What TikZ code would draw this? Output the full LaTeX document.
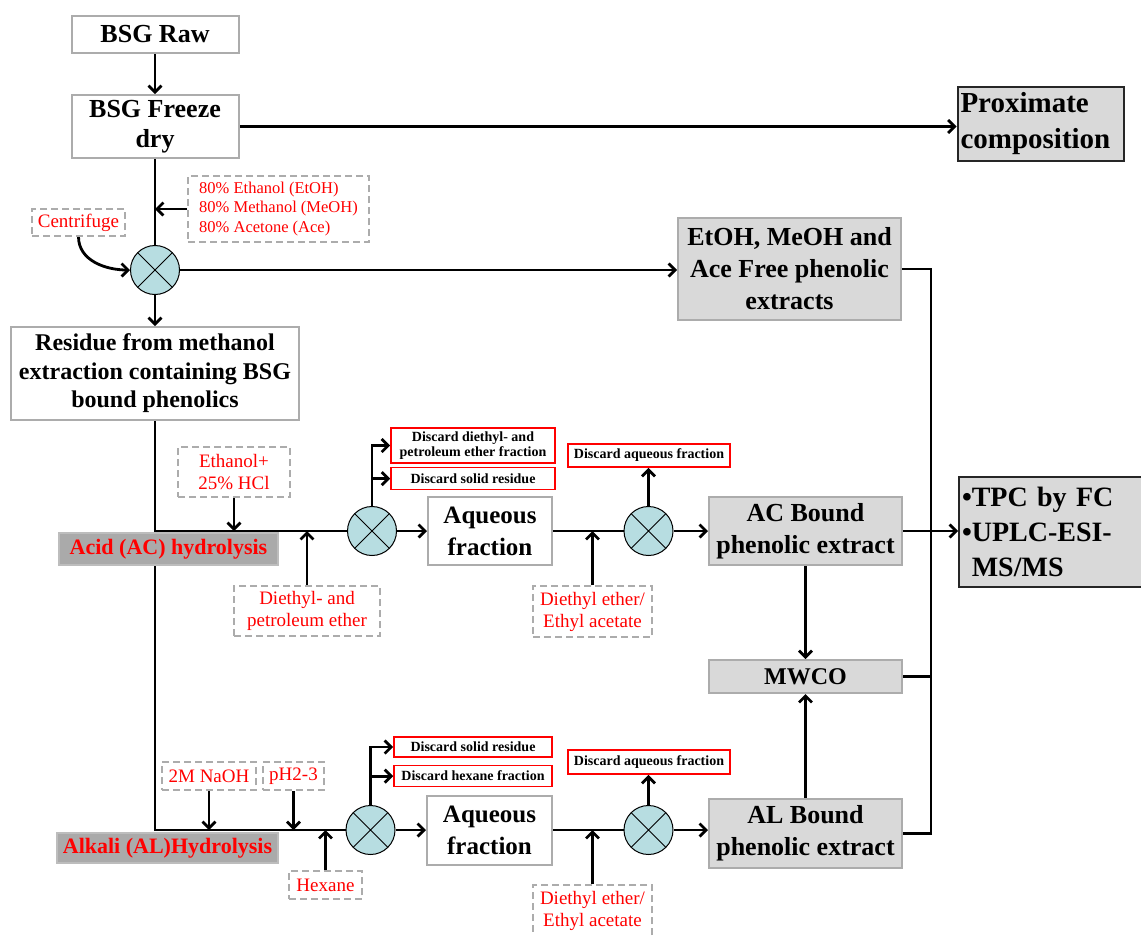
\documentclass[tikz,border=0pt]{standalone}
\usepackage{fontspec}
\setmainfont{Liberation Serif}
\usetikzlibrary{arrows.meta, positioning, calc, backgrounds}
\definecolor{boxgray}{RGB}{172,172,172}
\definecolor{fillgray}{RGB}{217,217,217}
\definecolor{hydrogray}{RGB}{170,170,170}
\definecolor{mixcyan}{RGB}{183,221,225}
\newcommand{\fsz}[2]{\fontsize{#1}{#2}\selectfont}
\tikzset{
    stage/.style = {draw=boxgray, fill=white, line width=2pt, align=center, inner sep=2pt, font=\bfseries\fsz{25}{32}},
    extract/.style = {stage, fill=fillgray},
    result/.style = {draw=black!85, fill=fillgray, line width=2pt, align=left, inner sep=3pt},
    reagent/.style = {draw=boxgray, fill=white, dash pattern=on 7pt off 4pt, line width=1.5pt, text=red, align=center, inner sep=2pt, font=\fsz{19}{22}},
    discard/.style = {draw=red, line width=1.6pt, fill=white, align=center, inner sep=1pt, font=\bfseries\fsz{14}{15}},
    hydro/.style = {draw=boxgray!80, fill=hydrogray, line width=1.5pt, text=red, inner sep=2pt, font=\bfseries\fsz{22}{24}},
    mixer/.style = {draw, circle, fill=mixcyan, line width=1pt, minimum size=49pt, inner sep=0pt,
        path picture={\draw[line width=1pt] (path picture bounding box.north west) -- (path picture bounding box.south east)
            (path picture bounding box.north east) -- (path picture bounding box.south west);}},
    flow/.style = {line width=2.8pt}
}

\begin{document}
\begin{tikzpicture}[x=1pt, y=-1pt, >={Straight Barb[length=6.5pt,width=13pt]}]
    \useasboundingbox (0,0) rectangle (1141,935);

    % Nodes
    \node [stage, minimum width=167pt, minimum height=37pt, font=\bfseries\fsz{26}{32}] (raw) at (155,34.5) {BSG Raw};
    \node [stage, below=40pt of raw, minimum width=167pt, minimum height=63pt, font=\bfseries\fsz{26}{30}] (freeze) {BSG Freeze\\dry};
    \node [result, text width=160pt, minimum height=74pt, font=\bfseries\fsz{29}{36}] (prox) at (1040.5,124) {Proximate\\composition};
    \node [reagent, align=left, minimum width=181pt, minimum height=66pt, font=\fsz{16.5}{19.5}] (solv) at (278.5,209) {80\% Ethanol (EtOH)\\80\% Methanol (MeOH)\\80\% Acetone (Ace)};
    \node [reagent, minimum width=93pt, minimum height=27pt] (centri) at (78.5,222.5) {Centrifuge};
    \node [mixer] (mix1) at (155,270) {};
    \node [extract, minimum width=223pt, minimum height=102pt, font=\bfseries\fsz{26}{32}] (etoh) at (789.5,269) {EtOH, MeOH and\\Ace Free phenolic\\extracts};
    \node [stage, minimum width=288pt, minimum height=93pt, font=\bfseries\fsz{24}{28.5}] (residue) at (155,373.5) {Residue from methanol\\extraction containing BSG\\bound phenolics};

    % acid branch
    \node [hydro, minimum width=219pt, minimum height=32pt] (acid) at (168.5,549) {Acid (AC) hydrolysis};
    \node [reagent, minimum width=112pt, minimum height=50pt] (hcl) at (234,472) {Ethanol+\\25\% HCl};
    \node [reagent, minimum width=146pt, minimum height=50pt] (dpe) at (307,611) {Diethyl- and\\petroleum ether};
    \node [mixer] (mix2) at (372,531) {};
    \node [discard, minimum width=164pt, minimum height=35pt] (disc1) at (473,445.5) {Discard diethyl- and\\petroleum ether fraction};
    \node [discard, below=3pt of disc1, minimum width=164pt, minimum height=22pt] (disc2) {Discard solid residue};
    \node [stage, minimum width=124pt, minimum height=68pt] (aq1) at (490,531) {Aqueous\\fraction};
    \node [reagent, minimum width=119pt, minimum height=51pt] (deea1) at (592.5,611.5) {Diethyl ether/\\Ethyl acetate};
    \node [mixer] (mix3) at (648.5,531) {};
    \node [discard, minimum width=162pt, minimum height=23pt] (disc3) at (649,455.5) {Discard aqueous fraction};
    \node [extract, minimum width=193pt, minimum height=68pt, font=\bfseries\fsz{26}{32}] (acb) at (805.5,531) {AC Bound\\phenolic extract};
    \node [extract, below=93pt of acb, minimum width=193pt, minimum height=33pt, font=\bfseries\fsz{24}{28}] (mwco) {MWCO};
    \node [extract, below=104pt of mwco, minimum width=193pt, minimum height=69pt, font=\bfseries\fsz{26}{32}] (alb) {AL Bound\\phenolic extract};
    \node [result, anchor=north west, text width=182pt, minimum height=110pt, font=\bfseries\fsz{28}{35}] (tpc) at (958,476) {\textbullet TPC by FC\\\textbullet UPLC-ESI-\\\phantom{\textbullet}MS/MS};

    % alkali branch
    \node [hydro, minimum width=221pt, minimum height=30pt] (alk) at (167.5,848) {Alkali (AL)Hydrolysis};
    \node [reagent, minimum width=94pt, minimum height=28pt] (naoh) at (209,776) {2M NaOH};
    \node [reagent, minimum width=61pt, minimum height=28pt] (ph) at (293.5,776) {pH2-3};
    \node [reagent, minimum width=73pt, minimum height=28pt] (hex) at (325.5,885) {Hexane};
    \node [mixer] (mix4) at (370.5,830) {};
    \node [discard, minimum width=158pt, minimum height=20pt] (disc4) at (473,747) {Discard solid residue};
    \node [discard, below=7pt of disc4, minimum width=158pt, minimum height=21pt] (disc5) {Discard hexane fraction};
    \node [stage, minimum width=125pt, minimum height=69pt] (aq2) at (489.5,830) {Aqueous\\fraction};
    \node [reagent, minimum width=119pt, minimum height=52pt] (deea2) at (592.5,911) {Diethyl ether/\\Ethyl acetate};
    \node [mixer] (mix5) at (648.5,830) {};
    \node [discard, minimum width=162pt, minimum height=24pt] (disc6) at (649,762) {Discard aqueous fraction};

    \coordinate (jac) at (155,531);
    \coordinate (jal) at (155,830);
    \coordinate (bus) at ($(alb.east)+(28,0)$);

    % Arrows
    \begin{pgfonlayer}{background}
    \begin{scope}[flow]
    \draw [->] (raw) -- (freeze);
    \draw [->] (freeze.east) -- (freeze.east -| prox.west);
    \draw (freeze) -- (mix1);
    \draw [->] (solv.west) -- (solv.west -| mix1);
    \draw [->] (centri.south) to [out=-90, in=180] (mix1.west);
    \draw [->] (mix1) -- (mix1 -| etoh.west);
    \draw [->] (mix1) -- (residue);
    \draw (residue) -- (jal) -- (mix4);

    \draw (jac) -- (mix2);
    \draw [->] (hcl) -- (hcl |- jac);
    \draw [->] (dpe) -- (dpe |- jac);
    \draw [->] (mix2.north) |- (disc1.west);
    \draw [->] (mix2.north) |- (disc2.west);
    \draw [->] (mix2) -- (aq1);
    \draw (aq1) -- (mix3);
    \draw [->] (deea1) -- (deea1 |- mix3);
    \draw [->] (mix3) -- (mix3 |- disc3.south);
    \draw [->] (mix3) -- (acb);
    \draw [->] (acb.east) -- (acb.east -| tpc.west);
    \draw [->] (acb) -- (mwco);

    \draw [->] (naoh) -- (naoh |- jal);
    \draw [->] (ph) -- (ph |- jal);
    \draw [->] (hex) -- (hex |- jal);
    \draw [->] (mix4.north) |- (disc4.west);
    \draw [->] (mix4.north) |- (disc5.west);
    \draw [->] (mix4) -- (aq2);
    \draw (aq2) -- (mix5);
    \draw [->] (deea2) -- (deea2 |- mix5);
    \draw [->] (mix5) -- (mix5 |- disc6.south);
    \draw [->] (mix5) -- (mix5 -| alb.west);
    \draw [->] (alb) -- (mwco);

    % collecting line on the right
    \draw (etoh.east) -| (bus) -- (alb.east);
    \draw (mwco.east) -- (mwco.east -| bus);
    \end{scope}
    \end{pgfonlayer}
\end{tikzpicture}
\end{document}
